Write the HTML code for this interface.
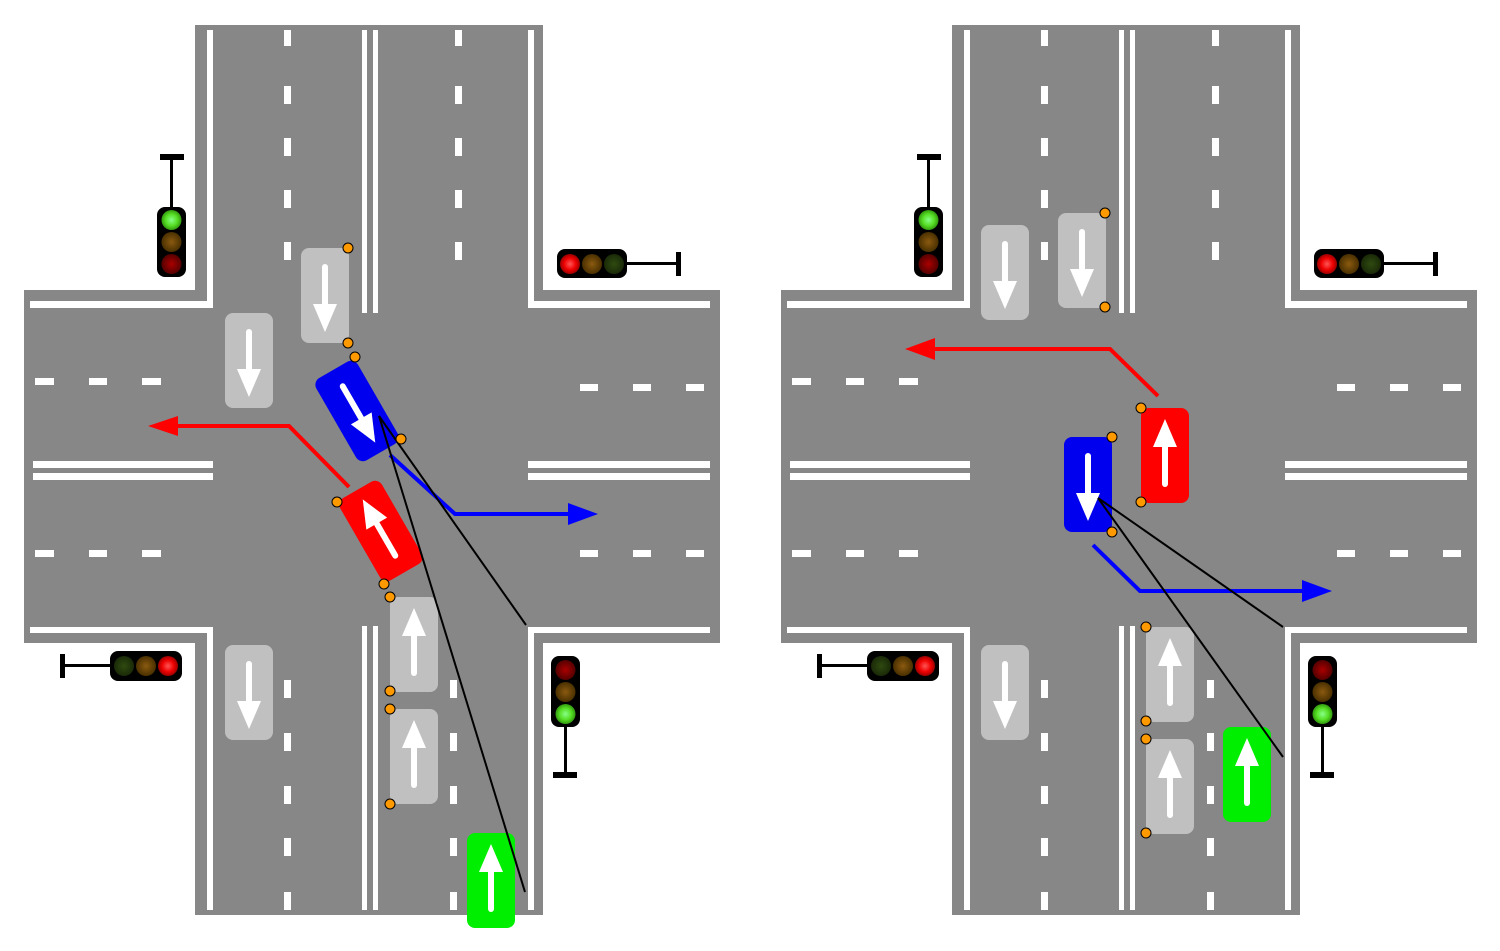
<!DOCTYPE html>
<html><head><meta charset="utf-8"><style>html,body{margin:0;padding:0;background:#fff}svg{display:block}</style></head>
<body>
<svg width="1500" height="951" viewBox="0 0 1500 951" xmlns="http://www.w3.org/2000/svg">
<defs>
<radialGradient id="gG"><stop offset="0" stop-color="#8f8"/><stop offset="0.6" stop-color="#55dd22"/><stop offset="1" stop-color="#339911"/></radialGradient>
<radialGradient id="gA"><stop offset="0" stop-color="#8a5a10"/><stop offset="1" stop-color="#4a3000"/></radialGradient>
<radialGradient id="gR"><stop offset="0" stop-color="#a00"/><stop offset="1" stop-color="#500"/></radialGradient>
<radialGradient id="gRon"><stop offset="0" stop-color="#f55"/><stop offset="0.6" stop-color="#e00"/><stop offset="1" stop-color="#900"/></radialGradient>
<radialGradient id="gGoff"><stop offset="0" stop-color="#2f4a10"/><stop offset="1" stop-color="#1a2a08"/></radialGradient>
<g id="inter">
 <rect x="195" y="25" width="348" height="890" fill="#878787"/>
 <rect x="24" y="290" width="696" height="353" fill="#878787"/>
 <g fill="#fff">
  <rect x="207" y="30" width="6" height="278"/><rect x="30" y="301" width="183" height="7"/>
  <rect x="528" y="30" width="6" height="278"/><rect x="528" y="301" width="182" height="7"/>
  <rect x="30" y="627" width="183" height="6"/><rect x="207" y="627" width="6" height="283"/>
  <rect x="528" y="627" width="182" height="6"/><rect x="528" y="627" width="6" height="283"/>
  <rect x="362" y="30" width="5" height="283"/><rect x="373" y="30" width="5" height="283"/>
  <rect x="362" y="626" width="5" height="284"/><rect x="373" y="626" width="5" height="284"/>
  <rect x="33" y="461" width="180" height="7"/><rect x="33" y="473" width="180" height="7"/>
  <rect x="528" y="461" width="182" height="7"/><rect x="528" y="473" width="182" height="7"/>
  <rect x="284" y="30" width="7" height="16"/><rect x="284" y="86" width="7" height="18"/><rect x="284" y="138" width="7" height="18"/><rect x="284" y="190" width="7" height="18"/><rect x="284" y="242" width="7" height="18"/>
  <rect x="455" y="30" width="7" height="16"/><rect x="455" y="86" width="7" height="18"/><rect x="455" y="138" width="7" height="18"/><rect x="455" y="190" width="7" height="18"/><rect x="455" y="242" width="7" height="18"/>
  <rect x="284" y="680" width="7" height="18"/><rect x="284" y="733" width="7" height="18"/><rect x="284" y="786" width="7" height="18"/><rect x="284" y="838" width="7" height="18"/><rect x="284" y="892" width="7" height="18"/>
  <rect x="450" y="680" width="7" height="18"/><rect x="450" y="733" width="7" height="18"/><rect x="450" y="786" width="7" height="18"/><rect x="450" y="838" width="7" height="18"/><rect x="450" y="892" width="7" height="18"/>
  <rect x="35" y="378" width="19" height="7"/><rect x="89" y="378" width="18" height="7"/><rect x="142" y="378" width="19" height="7"/>
  <rect x="35" y="550" width="19" height="7"/><rect x="89" y="550" width="18" height="7"/><rect x="142" y="550" width="19" height="7"/>
  <rect x="580" y="384" width="18" height="7"/><rect x="633" y="384" width="18" height="7"/><rect x="686" y="384" width="18" height="7"/>
  <rect x="580" y="550" width="18" height="7"/><rect x="633" y="550" width="18" height="7"/><rect x="686" y="550" width="18" height="7"/>
 </g>
 <!-- traffic lights -->
 <rect x="160" y="154" width="24" height="6" fill="#000"/><rect x="170" y="157" width="3" height="52" fill="#000"/>
 <rect x="157" y="207" width="29" height="70" rx="8" fill="#000"/>
 <circle cx="171.5" cy="220" r="10" fill="url(#gG)"/><circle cx="171.5" cy="242" r="10" fill="url(#gA)"/><circle cx="171.5" cy="264" r="10" fill="url(#gR)"/>
 <rect x="676" y="252" width="5" height="24" fill="#000"/><rect x="625" y="262" width="53" height="3" fill="#000"/>
 <rect x="557" y="249" width="70" height="29" rx="8" fill="#000"/>
 <circle cx="570" cy="264" r="10" fill="url(#gRon)"/><circle cx="592" cy="264" r="10" fill="url(#gA)"/><circle cx="614" cy="264" r="10" fill="url(#gGoff)"/>
 <rect x="60" y="654" width="5" height="24" fill="#000"/><rect x="62" y="664" width="50" height="3" fill="#000"/>
 <rect x="110" y="651" width="72" height="30" rx="8" fill="#000"/>
 <circle cx="124" cy="666" r="10" fill="url(#gGoff)"/><circle cx="146" cy="666" r="10" fill="url(#gA)"/><circle cx="168" cy="666" r="10" fill="url(#gRon)"/>
 <rect x="553" y="772" width="24" height="6" fill="#000"/><rect x="564" y="725" width="3" height="50" fill="#000"/>
 <rect x="551" y="656" width="29" height="71" rx="8" fill="#000"/>
 <circle cx="565.5" cy="670" r="10" fill="url(#gR)"/><circle cx="565.5" cy="692" r="10" fill="url(#gA)"/><circle cx="565.5" cy="714" r="10" fill="url(#gG)"/>
</g>
<g id="cardown"><rect x="0" y="0" width="48" height="95" rx="8"/><rect x="21" y="16" width="6" height="44" rx="3" fill="#fff"/><polygon points="12,56 36,56 24,84" fill="#fff"/></g>
<g id="carup"><rect x="0" y="0" width="48" height="95" rx="8"/><rect x="21" y="35" width="6" height="44" rx="3" fill="#fff"/><polygon points="12,39 36,39 24,11" fill="#fff"/></g>
</defs>

<use href="#inter"/>
<use href="#inter" x="757"/>

<!-- LEFT cars -->
<g fill="#c0c0c0">
 <use href="#cardown" x="301" y="248"/><use href="#cardown" x="225" y="313"/><use href="#cardown" x="225" y="645"/>
 <use href="#carup" x="390" y="597"/><use href="#carup" x="390" y="709"/>
</g>
<use href="#carup" x="467" y="833" fill="#00ee00"/>
<g transform="translate(357,411) rotate(-30)"><use href="#cardown" x="-24" y="-47.5" fill="#0000ee"/></g>
<g transform="translate(381,531) rotate(-30)"><use href="#carup" x="-24" y="-47.5" fill="#ff0000"/></g>
<polyline points="349,487 289,426 175,426" fill="none" stroke="#f00" stroke-width="4"/>
<polygon points="148,426 178,416 178,436" fill="#f00"/>
<polyline points="390,455 455,514 570,514" fill="none" stroke="#00f" stroke-width="4"/>
<polygon points="598,514 568,503 568,525" fill="#00f"/>
<g stroke="#000" stroke-width="2" fill="none"><line x1="379" y1="416" x2="526" y2="625"/><line x1="379" y1="416" x2="525" y2="892"/></g>
<g fill="#f90" stroke="#000" stroke-width="1">
 <circle cx="348" cy="248" r="5"/><circle cx="348" cy="343" r="5"/><circle cx="355" cy="357" r="5"/><circle cx="401" cy="439" r="5"/>
 <circle cx="337" cy="502" r="5"/><circle cx="384" cy="584" r="5"/><circle cx="390" cy="597" r="5"/><circle cx="390" cy="691" r="5"/>
 <circle cx="390" cy="709" r="5"/><circle cx="390" cy="804" r="5"/>
</g>

<!-- RIGHT cars -->
<g fill="#c0c0c0">
 <use href="#cardown" x="981" y="225"/><use href="#cardown" x="1058" y="213"/><use href="#cardown" x="981" y="645"/>
 <use href="#carup" x="1146" y="627"/><use href="#carup" x="1146" y="739"/>
</g>
<use href="#carup" x="1223" y="727" fill="#00ee00"/>
<use href="#cardown" x="1064" y="437" fill="#0000ee"/>
<use href="#carup" x="1141" y="408" fill="#ff0000"/>
<polyline points="1158,396 1110,349 932,349" fill="none" stroke="#f00" stroke-width="4"/>
<polygon points="905,349 935,338 935,360" fill="#f00"/>
<polyline points="1093,545 1140,591 1305,591" fill="none" stroke="#00f" stroke-width="4"/>
<polygon points="1332,591 1302,580 1302,602" fill="#00f"/>
<g stroke="#000" stroke-width="2" fill="none"><line x1="1098" y1="498" x2="1283" y2="627"/><line x1="1098" y1="498" x2="1283" y2="757"/></g>
<g fill="#f90" stroke="#000" stroke-width="1">
 <circle cx="1105" cy="213" r="5"/><circle cx="1105" cy="307" r="5"/><circle cx="1141" cy="408" r="5"/><circle cx="1141" cy="502" r="5"/>
 <circle cx="1112" cy="437" r="5"/><circle cx="1112" cy="532" r="5"/><circle cx="1146" cy="627" r="5"/><circle cx="1146" cy="721" r="5"/>
 <circle cx="1146" cy="739" r="5"/><circle cx="1146" cy="833" r="5"/>
</g>
</svg>
</body></html>
